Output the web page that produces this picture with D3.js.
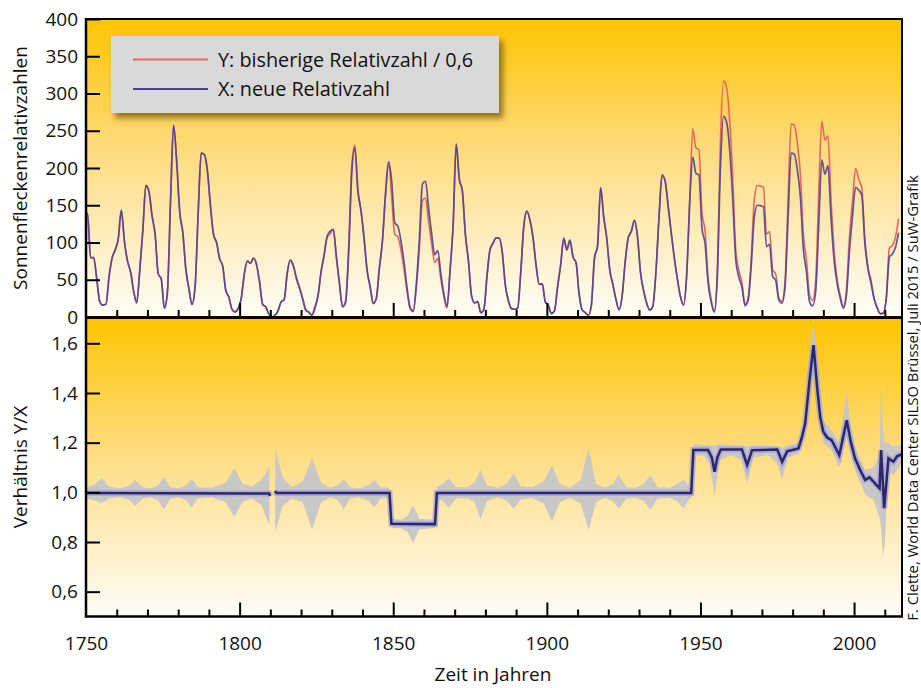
<!DOCTYPE html>
<html>
<head>
<meta charset="utf-8">
<script src="https://cdnjs.cloudflare.com/ajax/libs/d3/7.8.5/d3.min.js"></script>
<style>
  body { margin: 0; background: #fff; }
  text { font-family: "Open Sans", "Noto Sans", sans-serif; fill: #111; }
</style>
</head>
<body>
<script>
// yearly means, plotted at mid-year
const years = d3.range(1749, 2015);

// X: neue Relativzahl
const newSN = [134.0,
  139.0, 79.5, 79.7, 51.2, 20.3, 16.0, 17.0, 54.0, 79.3, 90.0,
  104.8, 143.2, 102.0, 75.2, 60.7, 34.8, 19.0, 63.0, 116.3, 176.8,
  168.0, 136.0, 110.8, 58.0, 51.0, 11.7, 33.0, 154.2, 257.3, 209.8,
  141.3, 113.5, 64.2, 38.0, 17.0, 40.2, 138.2, 220.0, 218.2, 196.8,
  149.8, 111.0, 100.0, 78.2, 68.3, 35.5, 26.7, 10.7, 6.8, 11.3,
  24.2, 56.7, 75.0, 71.8, 79.2, 70.3, 46.8, 16.8, 13.5, 4.2,
  0.0, 2.3, 8.3, 20.3, 23.2, 59.0, 76.3, 68.3, 52.9, 38.5,
  24.2, 9.2, 6.3, 2.2, 11.4, 28.2, 59.9, 83.0, 108.5, 115.2,
  117.4, 80.8, 44.3, 13.4, 19.5, 85.8, 192.7, 227.3, 168.7, 143.0,
  105.5, 63.3, 40.3, 18.1, 25.1, 65.8, 102.7, 166.3, 208.3, 182.5,
  126.3, 122.0, 102.7, 74.1, 39.0, 12.7, 8.2, 43.4, 104.4, 178.3,
  182.2, 146.6, 112.1, 83.5, 89.2, 57.8, 30.7, 13.9, 62.8, 123.6,
  232.0, 185.3, 169.2, 110.1, 74.5, 28.3, 18.9, 20.7, 5.7, 10.0,
  53.7, 90.5, 99.0, 106.1, 105.8, 86.3, 42.4, 21.8, 11.2, 10.4,
  11.8, 59.5, 121.7, 142.0, 130.0, 106.6, 69.4, 43.8, 44.4, 20.2,
  15.7, 4.6, 8.5, 40.8, 70.1, 105.5, 90.1, 102.8, 80.9, 73.2,
  30.9, 9.5, 6.0, 2.4, 16.1, 79.0, 95.0, 173.6, 134.6, 105.7,
  62.7, 43.5, 23.7, 9.7, 27.9, 74.0, 106.5, 114.7, 129.7, 108.2,
  59.4, 35.1, 18.6, 9.2, 14.6, 60.2, 132.8, 190.6, 182.6, 148.0,
  113.0, 79.2, 50.8, 27.1, 16.1, 55.3, 154.3, 214.7, 193.0, 190.7,
  118.9, 98.3, 45.0, 20.1, 6.6, 54.2, 200.7, 269.3, 261.7, 225.1,
  159.0, 76.4, 53.4, 39.9, 15.0, 22.0, 66.8, 132.9, 150.0, 149.4,
  148.0, 94.4, 97.6, 54.1, 49.2, 22.5, 18.4, 39.3, 131.0, 220.1,
  218.9, 198.9, 162.4, 91.0, 60.5, 20.6, 14.8, 33.9, 123.0, 211.1,
  191.8, 203.3, 133.0, 76.1, 44.9, 25.1, 11.6, 28.9, 88.3, 136.3,
  173.9, 170.4, 163.6, 99.3, 65.3, 45.8, 24.7, 12.6, 4.2, 4.8,
  24.9, 80.8, 84.5, 94.0, 113.3];

// Y: bisherige Relativzahl / 0,6
const oldSN = [134.8,
  139.0, 79.5, 79.7, 51.2, 20.3, 16.0, 17.0, 54.0, 79.3, 90.0,
  104.8, 143.2, 102.0, 75.2, 60.7, 34.8, 19.0, 63.0, 116.3, 176.8,
  168.0, 136.0, 110.8, 58.0, 51.0, 11.7, 33.0, 154.2, 257.3, 209.8,
  141.3, 113.5, 64.2, 38.0, 17.0, 40.2, 138.2, 220.0, 218.2, 196.8,
  149.8, 111.0, 100.0, 78.2, 68.3, 35.5, 26.7, 10.7, 6.8, 11.3,
  24.2, 56.7, 75.0, 71.8, 79.2, 70.3, 46.8, 16.8, 13.5, 4.2,
  0.0, 2.3, 8.3, 20.3, 23.2, 59.0, 76.3, 68.5, 50.2, 39.8,
  26.0, 11.0, 6.7, 3.0, 14.2, 27.7, 60.5, 82.7, 107.0, 111.7,
  118.2, 79.7, 45.8, 14.2, 22.0, 94.8, 202.5, 230.5, 172.0, 142.8,
  107.7, 61.2, 40.3, 17.8, 25.0, 66.8, 102.5, 164.2, 207.8, 160.5,
  111.0, 107.5, 90.2, 65.0, 34.3, 11.2, 7.2, 37.8, 91.3, 156.3,
  159.7, 128.7, 98.5, 73.3, 78.3, 50.8, 27.2, 12.2, 62.7, 123.3,
  231.7, 185.3, 169.3, 110.3, 74.5, 28.3, 18.8, 20.7, 5.7, 10.0,
  53.8, 90.5, 99.5, 106.2, 105.8, 87.0, 42.3, 21.8, 11.3, 10.5,
  11.8, 59.3, 121.7, 141.8, 130.0, 106.7, 69.7, 43.7, 44.5, 20.2,
  15.8, 4.5, 8.3, 40.7, 70.0, 105.8, 89.7, 103.3, 80.8, 73.2,
  31.0, 9.5, 6.0, 2.3, 16.0, 79.0, 95.2, 173.2, 134.3, 106.0,
  62.7, 43.5, 23.7, 9.7, 27.8, 73.8, 106.5, 115.0, 129.7, 108.2,
  59.5, 35.3, 18.5, 9.5, 14.5, 60.2, 132.8, 190.7, 182.7, 148.0,
  113.0, 79.2, 51.0, 27.2, 16.0, 55.3, 154.3, 252.7, 227.2, 224.5,
  139.8, 115.7, 52.5, 23.2, 7.3, 63.3, 236.2, 317.0, 308.0, 265.0,
  187.2, 89.8, 62.7, 46.5, 17.0, 25.2, 78.3, 156.3, 176.5, 175.8,
  174.2, 111.0, 114.8, 63.3, 57.5, 25.8, 21.0, 45.8, 154.2, 259.0,
  257.7, 234.0, 193.2, 111.0, 76.5, 29.8, 22.3, 49.0, 167.0, 262.7,
  237.7, 242.8, 157.2, 91.0, 49.8, 29.2, 14.3, 35.8, 107.2, 155.5,
  199.3, 185.0, 173.3, 106.2, 67.3, 49.7, 25.3, 12.5, 4.8, 5.2,
  27.5, 92.8, 96.0, 107.8, 132.2];

// Verhältnis Y/X
const ratioYears = [1750, 1809.6, 1809.9, 1810.7, 1811.5, 1812.0, 1848.8, 1849.4, 1863.6, 1864.2,
  1947.0, 1947.7, 1952.5, 1953.7, 1954.6, 1955.5, 1956.6, 1963.5, 1965.2, 1966.8,
  1975.0, 1976.6, 1978.2, 1981.9, 1983.0, 1984.1, 1985.5, 1986.8, 1988.0, 1989.0,
  1990.0, 1991.3, 1992.7, 1995.2, 1997.6, 1999.0, 2000.3, 2002.0, 2003.6, 2005.0,
  2006.3, 2008.3, 2008.8, 2009.8, 2011.2, 2012.8, 2014.0, 2015.4];
const ratioValues = [0.997, 0.995, 0.985, NaN, 1.005, 0.997, 0.997, 0.873, 0.872, 0.997,
  0.997, 1.17, 1.17, 1.14, 1.083, 1.14, 1.172, 1.172, 1.11, 1.17,
  1.172, 1.123, 1.165, 1.177, 1.22, 1.278, 1.45, 1.593, 1.42, 1.3,
  1.244, 1.22, 1.21, 1.15, 1.29, 1.2, 1.137, 1.09, 1.05, 1.06,
  1.043, 1.016, 1.17, 0.936, 1.137, 1.123, 1.145, 1.153];

// grey uncertainty band
const bandYears = [1750, 1752.5, 1755.2, 1757.5, 1761, 1764, 1766, 1768.5, 1771, 1773.5,
  1775.3, 1777.5, 1780, 1782.5, 1784.4, 1786.5, 1791, 1795.5, 1798.3, 1801,
  1804, 1807, 1809.7, 1810.5, 1811.6, 1814, 1817, 1820.5, 1823.6, 1826.5,
  1829.5, 1832, 1833.9, 1836, 1839, 1842, 1843.9, 1846, 1848.8, 1849.4,
  1852.5, 1854.7, 1856.4, 1858.5, 1863.6, 1864.2, 1866.2, 1868, 1870.5, 1874,
  1876.5, 1878.4, 1880.5, 1884, 1887, 1889.2, 1891.5, 1895, 1899, 1901.7,
  1904.2, 1907.5, 1911, 1913.6, 1916, 1919, 1921.5, 1923.4, 1926, 1929,
  1931.5, 1933.7, 1936, 1940, 1942.5, 1944.5, 1946.5, 1947.0, 1947.7, 1951,
  1953, 1954.6, 1956.3, 1960, 1963.3, 1965.2, 1967.3, 1972, 1974.8, 1976.6,
  1978.5, 1981.9, 1983, 1984.1, 1985.5, 1986.8, 1988, 1990, 1992.7, 1995.2,
  1997.6, 1999, 2000.3, 2003.6, 2006.3, 2008.3, 2008.8, 2009.4, 2010, 2011.2,
  2012.8, 2015.4];
const bandLow = [0.975, 0.968, 0.958, 0.975, 0.98, 0.97, 0.945, 0.975, 0.98, 0.968,
  0.93, 0.975, 0.98, 0.968, 0.94, 0.975, 0.98, 0.96, 0.902, 0.962,
  0.975, 0.95, 0.868, NaN, 0.84, 0.945, 0.975, 0.96, 0.85, 0.96,
  0.98, 0.968, 0.932, 0.975, 0.98, 0.965, 0.94, 0.975, 0.978, 0.855,
  0.855, 0.84, 0.795, 0.85, 0.856, 0.975, 0.965, 0.94, 0.975, 0.977,
  0.96, 0.891, 0.965, 0.98, 0.965, 0.935, 0.97, 0.978, 0.955, 0.882,
  0.96, 0.978, 0.955, 0.848, 0.96, 0.978, 0.965, 0.935, 0.975, 0.978,
  0.965, 0.93, 0.975, 0.978, 0.965, 0.935, 0.975, 0.975, 1.15, 1.148,
  1.11, 0.99, 1.13, 1.15, 1.13, 1.036, 1.14, 1.15, 1.12, 1.052,
  1.14, 1.155, 1.19, 1.24, 1.4, 1.5, 1.36, 1.2, 1.17, 1.1,
  1.23, 1.15, 1.09, 0.99, 0.97, 0.9, 0.86, 0.74, 0.8, 1.08,
  1.07, 1.11];
const bandHigh = [1.02, 1.03, 1.058, 1.022, 1.016, 1.026, 1.05, 1.02, 1.016, 1.028,
  1.062, 1.02, 1.016, 1.028, 1.055, 1.02, 1.018, 1.04, 1.097, 1.035,
  1.025, 1.05, 1.103, NaN, 1.177, 1.06, 1.02, 1.045, 1.137, 1.04,
  1.018, 1.028, 1.052, 1.02, 1.016, 1.03, 1.05, 1.02, 1.018, 0.893,
  0.89, 0.905, 0.949, 0.893, 0.89, 1.02, 1.035, 1.057, 1.02, 1.02,
  1.04, 1.09, 1.03, 1.018, 1.035, 1.077, 1.025, 1.02, 1.045, 1.11,
  1.035, 1.018, 1.05, 1.177, 1.035, 1.018, 1.035, 1.07, 1.02, 1.018,
  1.035, 1.07, 1.02, 1.018, 1.035, 1.052, 1.02, 1.02, 1.195, 1.19,
  1.19, 1.19, 1.195, 1.19, 1.19, 1.185, 1.19, 1.19, 1.185, 1.18,
  1.19, 1.2, 1.25, 1.31, 1.58, 1.69, 1.52, 1.29, 1.25, 1.2,
  1.405, 1.26, 1.18, 1.09, 1.1, 1.15, 1.44, 1.25, 1.2, 1.2,
  1.185, 1.19];

const topTicks = [0, 50, 100, 150, 200, 250, 300, 350, 400];
const ratioTicks = [0.6, 0.8, 1.0, 1.2, 1.4, 1.6];
const yearLabels = [1750, 1800, 1850, 1900, 1950, 2000];

const width = 921, height = 688;
const left = 86, right = 902;
const top1 = 19, bot1 = 317, top2 = 318.5, bot2 = 616.5;

const svg = d3.select("body").append("svg")
  .attr("width", width)
  .attr("height", height);

const defs = svg.append("defs");
const grad = defs.append("linearGradient")
  .attr("id", "bg").attr("x1", 0).attr("y1", 0).attr("x2", 0).attr("y2", 1);
grad.append("stop").attr("offset", "0%").attr("stop-color", "#ffc400");
grad.append("stop").attr("offset", "45%").attr("stop-color", "#fedc80");
grad.append("stop").attr("offset", "100%").attr("stop-color", "#fffdf8");

const shadow = defs.append("filter").attr("id", "shadow")
  .attr("x", "-10%").attr("y", "-20%").attr("width", "130%").attr("height", "160%");
shadow.append("feDropShadow")
  .attr("dx", 4).attr("dy", 5).attr("stdDeviation", 3)
  .attr("flood-color", "#5c4500").attr("flood-opacity", 0.7);

const x = d3.scaleLinear().domain([1750, 2015.6]).range([left, right]);
const y1 = d3.scaleLinear().domain([0, 400]).range([bot1, top1]);
const y2 = d3.scaleLinear().domain([0.5, 1.7]).range([bot2, top2]);

// panel backgrounds
svg.append("rect").attr("x", left).attr("y", top1)
  .attr("width", right - left).attr("height", bot1 - top1).attr("fill", "url(#bg)");
svg.append("rect").attr("x", left).attr("y", top2)
  .attr("width", right - left).attr("height", bot2 - top2).attr("fill", "url(#bg)");

defs.append("clipPath").attr("id", "clip1").append("rect")
  .attr("x", left).attr("y", top1).attr("width", right - left).attr("height", bot1 - top1);
defs.append("clipPath").attr("id", "clip2").append("rect")
  .attr("x", left).attr("y", top2).attr("width", right - left).attr("height", bot2 - top2);

// top panel: sunspot numbers
const sn = years.map((yr, i) => ({ t: yr + 0.5, x: newSN[i], y: oldSN[i] }));
const g1 = svg.append("g").attr("clip-path", "url(#clip1)");

g1.append("path")
  .datum(sn)
  .attr("fill", "none")
  .attr("stroke", "#e8665c")
  .attr("stroke-width", 1.6)
  .attr("d", d3.line().x(d => x(d.t)).y(d => y1(d.y)).curve(d3.curveMonotoneX));

g1.append("path")
  .datum(sn)
  .attr("fill", "none")
  .attr("stroke", "#4c4597")
  .attr("stroke-opacity", 0.9)
  .attr("stroke-width", 1.7)
  .attr("d", d3.line().x(d => x(d.t)).y(d => y1(d.x)).curve(d3.curveMonotoneX));

// bottom panel: ratio
const band = bandYears.map((yr, i) => ({ t: yr, lo: bandLow[i], hi: bandHigh[i] }));
const ratio = ratioYears.map((yr, i) => ({ t: yr, v: ratioValues[i] }));
const g2 = svg.append("g").attr("clip-path", "url(#clip2)");

g2.append("path")
  .datum(band)
  .attr("fill", "#c6c6ca")
  .attr("fill-opacity", 0.92)
  .attr("d", d3.area().defined(d => !isNaN(d.lo))
    .x(d => x(d.t)).y0(d => y2(d.lo)).y1(d => y2(d.hi)));

const ratioLine = d3.line().defined(d => !isNaN(d.v)).x(d => x(d.t)).y(d => y2(d.v));
g2.append("path")
  .datum(ratio)
  .attr("fill", "none")
  .attr("stroke", "#a29de0")
  .attr("stroke-opacity", 0.7)
  .attr("stroke-width", 6)
  .attr("d", ratioLine);
g2.append("path")
  .datum(ratio)
  .attr("fill", "none")
  .attr("stroke", "#2b2868")
  .attr("stroke-width", 2.5)
  .attr("d", ratioLine);

// axes
const comma = d => d3.format(".1f")(d).replace(".", ",");

svg.append("g").attr("transform", `translate(${left},0)`)
  .call(d3.axisLeft(y1).tickValues(topTicks).tickSizeInner(-14).tickSizeOuter(0).tickPadding(8));
svg.append("g").attr("transform", `translate(${left},0)`)
  .call(d3.axisLeft(y2).tickValues(ratioTicks).tickFormat(comma).tickSizeInner(-14).tickSizeOuter(0).tickPadding(8));

const minorYears = d3.range(1760, 2015, 10).filter(d => d % 50 !== 0);
[bot1, bot2].forEach(b => {
  svg.append("g").attr("transform", `translate(0,${b})`)
    .call(d3.axisBottom(x).tickValues(minorYears).tickSizeInner(-7).tickSizeOuter(0).tickFormat(""));
  svg.append("g").attr("transform", `translate(0,${b})`)
    .call(d3.axisBottom(x).tickValues(yearLabels.slice(1)).tickSizeInner(-14).tickSizeOuter(0).tickFormat(""));
});
svg.append("g").attr("transform", `translate(0,${bot2})`)
  .call(d3.axisBottom(x).tickValues(yearLabels).tickSize(0).tickPadding(20).tickFormat(d3.format("d")));

svg.selectAll(".tick line").attr("stroke", "#000").attr("stroke-width", 2);
svg.selectAll(".domain").remove();
svg.selectAll(".tick text").attr("font-size", 19).attr("fill", "#111")
  .attr("font-family", "'Open Sans', sans-serif");

// frame
const frame = svg.append("g").attr("stroke", "#000").attr("fill", "none");
frame.append("line").attr("x1", left).attr("x2", left).attr("y1", top1 - 1).attr("y2", bot2 + 1.2).attr("stroke-width", 2.5);
frame.append("line").attr("x1", left).attr("x2", right + 1).attr("y1", top1).attr("y2", top1).attr("stroke-width", 2);
frame.append("line").attr("x1", right).attr("x2", right).attr("y1", top1).attr("y2", bot2).attr("stroke-width", 2);
frame.append("line").attr("x1", left).attr("x2", right + 1).attr("y1", bot1 + 0.5).attr("y2", bot1 + 0.5).attr("stroke-width", 3);
frame.append("line").attr("x1", left).attr("x2", right + 1).attr("y1", bot2).attr("y2", bot2).attr("stroke-width", 2.5);

// legend
const lg = svg.append("g");
lg.append("rect").attr("x", 111).attr("y", 36).attr("width", 388).attr("height", 77)
  .attr("fill", "#d9d9d9").attr("filter", "url(#shadow)");
const legendItems = [
  { label: "Y: bisherige Relativzahl / 0,6", color: "#e8665c" },
  { label: "X: neue Relativzahl", color: "#4c3f98" }
];
legendItems.forEach((d, i) => {
  const yy = 59.5 + i * 29.5;
  lg.append("line").attr("x1", 133).attr("x2", 208).attr("y1", yy).attr("y2", yy)
    .attr("stroke", d.color).attr("stroke-width", 2.2);
  lg.append("text").attr("x", 218).attr("y", yy + 7).attr("font-size", 19.8).text(d.label);
});

// axis titles
svg.append("text").attr("transform", "translate(27,168) rotate(-90)")
  .attr("text-anchor", "middle").attr("font-size", 19).text("Sonnenfleckenrelativzahlen");
svg.append("text").attr("transform", "translate(27,467) rotate(-90)")
  .attr("text-anchor", "middle").attr("font-size", 19).text("Verhältnis Y/X");
svg.append("text").attr("x", 493).attr("y", 681)
  .attr("text-anchor", "middle").attr("font-size", 19).text("Zeit in Jahren");
svg.append("text").attr("transform", "translate(918,398) rotate(-90)")
  .attr("text-anchor", "middle").attr("font-size", 14.8)
  .text("F. Clette, World Data Center SILSO Brüssel, Juli 2015 / SuW-Grafik");
</script>
</body>
</html>
